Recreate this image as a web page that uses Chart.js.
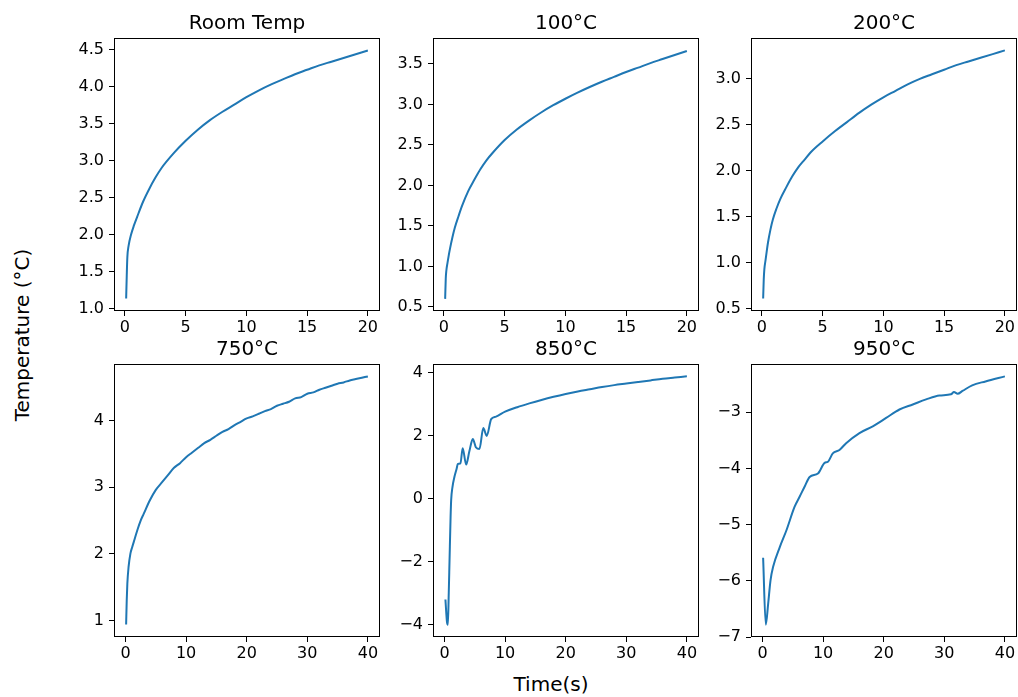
<!DOCTYPE html>
<html>
<head>
<meta charset="utf-8">
<script src="https://cdn.jsdelivr.net/npm/chart.js@4"></script>
<style>
  body { margin: 0; background: #fff; width: 1018px; height: 697px; position: relative; overflow: hidden; font-family: "DejaVu Sans", sans-serif; }
  canvas { position: absolute; }
  .lab { position: absolute; font-size: 20px; color: #000; white-space: nowrap; }
</style>
</head>
<body>
<div class="lab" style="left:551px;top:684px;transform:translate(-50%,-50%)">Time(s)</div>
<div class="lab" style="left:22px;top:335px;transform:translate(-50%,-50%) rotate(-90deg)">Temperature (°C)</div>
<script>
// panel titles
const titles = ["Room Temp", "100°C", "200°C", "750°C", "850°C", "950°C"];

// Room Temp
const roomX = [0.1, 0.15, 0.2, 0.3, 0.5, 0.75, 1, 1.5, 2, 2.5, 3, 4, 5, 6, 7, 8, 9, 10, 11, 12, 13, 14, 15, 16, 17, 18, 19, 20];
const roomY = [1.14, 1.45, 1.7, 1.85, 2.0, 2.13, 2.24, 2.45, 2.62, 2.77, 2.9, 3.1, 3.27, 3.42, 3.55, 3.66, 3.76, 3.86, 3.95, 4.03, 4.1, 4.17, 4.23, 4.29, 4.34, 4.39, 4.44, 4.49];

// 100°C and 200°C share time stamps
const t20X = [0.1, 0.15, 0.2, 0.3, 0.4, 0.5, 0.7, 0.9, 1.2, 1.5, 2, 2.5, 3, 3.5, 4, 5, 6, 7, 8, 9, 10, 11, 12, 13, 14, 15, 16, 17, 18, 19, 20];
const c100Y = [0.6, 0.85, 0.95, 1.05, 1.14, 1.22, 1.36, 1.48, 1.62, 1.75, 1.93, 2.07, 2.2, 2.31, 2.4, 2.56, 2.69, 2.8, 2.9, 2.99, 3.07, 3.145, 3.215, 3.28, 3.34, 3.4, 3.455, 3.51, 3.56, 3.61, 3.66];
const c200Y = [0.61, 0.82, 0.93, 1.03, 1.13, 1.22, 1.36, 1.47, 1.59, 1.69, 1.82, 1.94, 2.04, 2.12, 2.2, 2.32, 2.43, 2.53, 2.63, 2.72, 2.8, 2.87, 2.94, 3.0, 3.05, 3.1, 3.15, 3.19, 3.23, 3.27, 3.31];

// 750°C
const c750X = [0.1, 0.2, 0.3, 0.5, 0.8, 1.1, 1.5, 2, 2.5, 3, 4, 5, 6, 7, 8, 9, 10, 11, 12, 13, 14, 15, 16, 17, 18, 19, 20, 21, 22, 23, 24, 25, 26, 27, 28, 29, 30, 31, 32, 33, 34, 35, 36, 37, 38, 39, 40];
const c750Y = [0.94, 1.3, 1.55, 1.8, 2.0, 2.1, 2.22, 2.37, 2.5, 2.6, 2.8, 2.96, 3.07, 3.18, 3.29, 3.36, 3.45, 3.52, 3.59, 3.66, 3.71, 3.77, 3.83, 3.87, 3.93, 3.98, 4.03, 4.06, 4.1, 4.14, 4.17, 4.22, 4.25, 4.28, 4.33, 4.35, 4.4, 4.42, 4.46, 4.49, 4.52, 4.55, 4.57, 4.6, 4.62, 4.64, 4.66];

// 850°C
const c850X = [0.15, 0.4, 0.55, 0.7, 0.83, 1.0, 1.1, 1.3, 1.65, 2.0, 2.2, 2.63, 3.0, 3.57, 4.1, 4.67, 5.2, 5.76, 6.4, 6.97, 7.7, 8.5, 10, 12, 14, 16, 18, 20, 22, 24, 26, 28, 30, 32, 34, 36, 38, 40];
const c850Y = [-3.2, -3.9, -4.0, -3.0, -1.95, -0.6, -0.04, 0.35, 0.7, 0.95, 1.1, 1.12, 1.6, 1.08, 1.5, 1.89, 1.62, 1.57, 2.24, 1.99, 2.52, 2.6, 2.76, 2.9, 3.02, 3.13, 3.23, 3.32, 3.4, 3.47, 3.54, 3.6, 3.65, 3.7, 3.75, 3.8, 3.84, 3.88];

// 950°C
const c950X = [0.1, 0.54, 0.93, 1.32, 1.75, 2.85, 3.95, 5.3, 6.14, 6.96, 7.78, 9.15, 10.25, 10.8, 11.6, 12.7, 13.8, 16, 18.2, 20.4, 22.6, 24.8, 27, 29.2, 31.1, 31.6, 32.2, 33, 34.6, 36.8, 40];
const c950Y = [-5.59, -6.78, -6.41, -5.99, -5.75, -5.4, -5.1, -4.68, -4.5, -4.32, -4.15, -4.09, -3.9, -3.88, -3.73, -3.67, -3.55, -3.37, -3.25, -3.1, -2.95, -2.86, -2.77, -2.7, -2.68, -2.64, -2.67, -2.62, -2.52, -2.45, -2.36];

// tick values
const xTicks20 = [0, 5, 10, 15, 20];
const xTicks40 = [0, 10, 20, 30, 40];
const yTicksRoom = [1.0, 1.5, 2.0, 2.5, 3.0, 3.5, 4.0, 4.5];
const yTicks100 = [0.5, 1.0, 1.5, 2.0, 2.5, 3.0, 3.5];
const yTicks200 = [0.5, 1.0, 1.5, 2.0, 2.5, 3.0];
const yTicks750 = [1, 2, 3, 4];
const yTicks850 = [-4, -2, 0, 2, 4];
const yTicks950 = [-7, -6, -5, -4, -3];

// axis limits
const xLim20 = [-0.9, 21.0];
const xLim40 = [-1.9, 42.0];
const yLims = [[0.97, 4.66], [0.45, 3.82], [0.475, 3.445], [0.754, 4.846], [-4.39, 4.27], [-7.0, -2.14]];

const panels = [
    { x: roomX, y: roomY, xt: xTicks20, yt: yTicksRoom, xl: xLim20, dec: 1 },
    { x: t20X, y: c100Y, xt: xTicks20, yt: yTicks100, xl: xLim20, dec: 1 },
    { x: t20X, y: c200Y, xt: xTicks20, yt: yTicks200, xl: xLim20, dec: 1 },
    { x: c750X, y: c750Y, xt: xTicks40, yt: yTicks750, xl: xLim40, dec: 0 },
    { x: c850X, y: c850Y, xt: xTicks40, yt: yTicks850, xl: xLim40, dec: 0 },
    { x: c950X, y: c950Y, xt: xTicks40, yt: yTicks950, xl: xLim40, dec: 0 },
];

const colLeft = [114, 433, 751];
const rowTop = [38, 364];
const boxW = 266, boxH = 273;
const yAxisW = 60, titleH = 30, xAxisH = 30, padR = 14;
const tickFont = { family: "'DejaVu Sans', sans-serif", size: 16 };

Chart.defaults.font.family = "'DejaVu Sans', sans-serif";
Chart.defaults.color = '#000';

const framePlugin = {
    id: 'frame',
    afterDraw(chart) {
        const { ctx, chartArea: a } = chart;
        ctx.save();
        ctx.strokeStyle = '#000';
        ctx.lineWidth = 1;
        ctx.strokeRect(Math.round(a.left) + 0.5, Math.round(a.top) + 0.5, Math.round(a.right - a.left) - 1, Math.round(a.bottom - a.top) - 1);
        ctx.restore();
    }
};

function fmt(v, dec) {
    const s = Math.abs(v).toFixed(dec);
    return v < 0 ? '\u2212' + s : s;
}

panels.forEach((p, i) => {
    const cv = document.createElement('canvas');
    const L = colLeft[i % 3], T = rowTop[Math.floor(i / 3)];
    cv.width = yAxisW + boxW + padR;
    cv.height = titleH + boxH + xAxisH;
    cv.style.left = (L - yAxisW) + 'px';
    cv.style.top = (T - titleH) + 'px';
    document.body.appendChild(cv);

    new Chart(cv.getContext('2d'), {
        type: 'line',
        data: {
            datasets: [{
                data: p.x.map((xv, k) => ({ x: xv, y: p.y[k] })),
                borderColor: '#1f77b4',
                borderWidth: 2,
                pointRadius: 0,
                cubicInterpolationMode: 'monotone',
                fill: false,
            }]
        },
        options: {
            responsive: false,
            animation: false,
            devicePixelRatio: 1,
            layout: { padding: { left: 0, top: 0, right: padR, bottom: 0 } },
            plugins: {
                legend: { display: false },
                tooltip: { enabled: false },
                title: {
                    display: true,
                    fullSize: false,   // centre over the axes box, not the whole canvas
                    text: titles[i],
                    color: '#000',
                    font: { size: 20, weight: 'normal', lineHeight: '24px' },
                    padding: { top: 4, bottom: 2 },
                }
            },
            scales: {
                x: {
                    type: 'linear',
                    min: p.xl[0],
                    max: p.xl[1],
                    afterBuildTicks: (s) => { s.ticks = p.xt.map(v => ({ value: v })); },
                    afterFit: (s) => { s.height = xAxisH; },
                    grid: { drawOnChartArea: false, drawTicks: true, tickLength: 5, color: '#000', lineWidth: 1 },
                    border: { display: false },
                    ticks: { autoSkip: false, maxRotation: 0, padding: 2, font: tickFont, color: '#000',
                        callback: (v) => fmt(v, 0) },
                },
                y: {
                    type: 'linear',
                    min: yLims[i][0],
                    max: yLims[i][1],
                    afterBuildTicks: (s) => { s.ticks = p.yt.map(v => ({ value: v })); },
                    afterFit: (s) => { s.width = yAxisW; },
                    grid: { drawOnChartArea: false, drawTicks: true, tickLength: 5, color: '#000', lineWidth: 1 },
                    border: { display: false },
                    ticks: { autoSkip: false, padding: 5, font: tickFont, color: '#000',
                        callback: (v) => fmt(v, p.dec) },
                }
            }
        },
        plugins: [framePlugin]
    });
});
</script>
</body>
</html>
